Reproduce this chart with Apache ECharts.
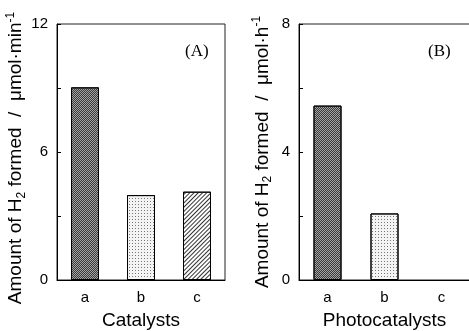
<!DOCTYPE html>
<html>
<head>
<meta charset="utf-8">
<script src="https://cdn.jsdelivr.net/npm/echarts@6/dist/echarts.min.js"></script>
<style>html,body{margin:0;padding:0;background:#fff;}#c{width:469px;height:331px;}</style>
</head>
<body>
<div id="c"></div>
<script>
var categories = ['a', 'b', 'c'];
var valuesA = [9.03, 3.98, 4.14];
var valuesB = [5.45, 2.08, 0];
var xNameA = 'Catalysts';
var xNameB = 'Photocatalysts';
var panelA = '(A)';
var panelB = '(B)';

var FONT = 'Liberation Sans, Arial, sans-serif';
var SERIF = 'Liberation Serif, Times New Roman, serif';

var decals = [
  { symbol: 'rect', symbolSize: 1, color: '#3a3a3a', dashArrayX: [[1, 1], [0, 1, 1, 0]], dashArrayY: [1, 0] },
  { symbol: 'rect', symbolSize: 1, color: '#777', dashArrayX: [1, 2], dashArrayY: [1, 2] },
  { symbol: 'rect', symbolSize: 1, color: '#333', dashArrayX: [1, 0], dashArrayY: [1, 2], rotation: -Math.PI / 4 }
];
var baseColors = ['#a4a4a4', '#f4f4f4', '#ffffff'];

function barData(vals) {
  return vals.map(function (v, i) {
    return { value: v, itemStyle: { color: baseColors[i], decal: decals[i], borderWidth: v === 0 ? 0 : 1 } };
  });
}

var richName = {
  n: { fontSize: 19, fontFamily: FONT, color: '#000', lineHeight: 23 },
  sub: { fontSize: 12, fontFamily: FONT, color: '#000', lineHeight: 13, verticalAlign: 'bottom' },
  sup: { fontSize: 12, fontFamily: FONT, color: '#000', lineHeight: 13, verticalAlign: 'top' }
};

function yAxis(gridIndex, max, interval, labelStep, unit, gap, pad) {
  return {
    type: 'value', gridIndex: gridIndex, min: 0, max: max, interval: interval,
    axisLine: { show: true, lineStyle: { color: '#000', width: 1 } },
    axisTick: { show: true, inside: true, length: 4, lineStyle: { color: '#000' } },
    splitLine: { show: false },
    axisLabel: {
      color: '#000', fontSize: 15, fontFamily: FONT, margin: 9,
      formatter: function (v) { return (v % labelStep === 0) ? String(v) : ''; }
    },
    name: '{n|Amount of H}{sub|2}{n| formed  /  μmol·' + unit + '}{sup|-1}',
    nameLocation: 'middle', nameRotate: 90, nameGap: gap,
    nameTextStyle: { rich: richName, padding: pad }
  };
}

function xAxis(gridIndex, name) {
  return {
    type: 'category', gridIndex: gridIndex, data: categories,
    axisLine: { show: true, lineStyle: { color: '#000', width: 1 } },
    axisTick: { show: false },
    axisLabel: { color: '#000', fontSize: 15, fontFamily: FONT, margin: 10 },
    name: name, nameLocation: 'middle', nameGap: 31,
    nameTextStyle: { color: '#000', fontSize: 19, fontFamily: FONT }
  };
}

var chart = echarts.init(document.getElementById('c'), null, { renderer: 'canvas' });
chart.setOption({
  animation: false,
  backgroundColor: '#fff',
  title: [
    { text: panelA, left: 185, top: 43, padding: 0, textStyle: { fontFamily: SERIF, fontSize: 17, fontWeight: 'normal', color: '#000' } },
    { text: panelB, left: 428, top: 43, padding: 0, textStyle: { fontFamily: SERIF, fontSize: 17, fontWeight: 'normal', color: '#000' } }
  ],
  grid: [
    { left: 57, top: 24, width: 168, height: 256, show: true, borderColor: '#222', borderWidth: 1, backgroundColor: 'transparent', outerBoundsMode: 'none', containLabel: false },
    { left: 299, top: 24, width: 171, height: 256, show: true, borderColor: '#222', borderWidth: 1, backgroundColor: 'transparent', outerBoundsMode: 'none', containLabel: false }
  ],
  xAxis: [xAxis(0, xNameA), xAxis(1, xNameB)],
  yAxis: [yAxis(0, 12, 3, 6, 'min', 28, [0, 12, 0, 0]), yAxis(1, 8, 2, 4, 'h', 25, [0, 0, 0, 0])],
  series: [
    { type: 'bar', xAxisIndex: 0, yAxisIndex: 0, barWidth: 28, data: barData(valuesA),
      itemStyle: { borderColor: '#000' } },
    { type: 'bar', xAxisIndex: 1, yAxisIndex: 1, barWidth: 28, data: barData(valuesB),
      itemStyle: { borderColor: '#000' } }
  ]
});
</script>
</body>
</html>
